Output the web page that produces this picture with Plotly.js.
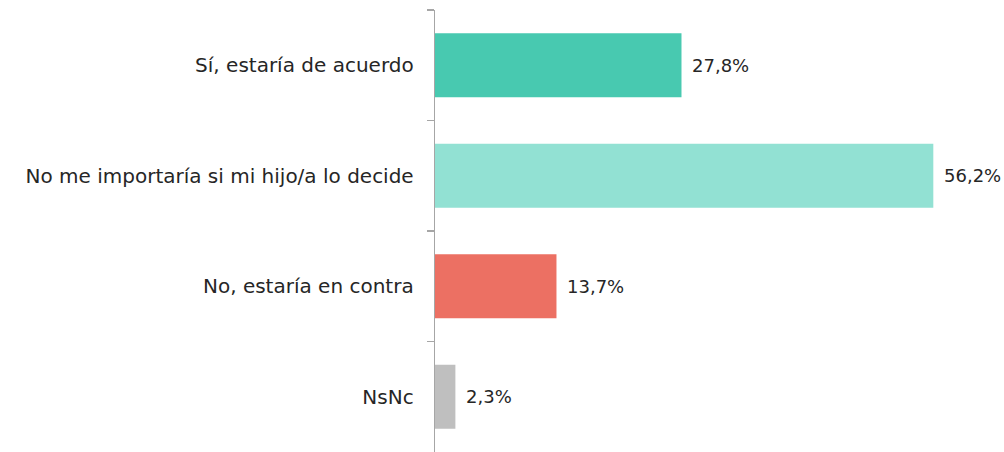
<!DOCTYPE html>
<html><head><meta charset="utf-8">
<script src="https://cdn.plot.ly/plotly-3.0.1.min.js"></script>
<style>html,body{margin:0;padding:0;background:#fff}#chart{width:1004px;height:452px}</style>
</head><body><div id="chart"></div>
<script>
const categories = ["Sí, estaría de acuerdo", "No me importaría si mi hijo/a lo decide", "No, estaría en contra", "NsNc"];
const values = [27.8, 56.2, 13.7, 2.3];
const valueLabels = ["27,8%", "56,2%", "13,7%", "2,3%"];
const colors = ["#48C9B0", "#92E1D3", "#EC7063", "#BFBFBF"];
const FONT = "'DejaVu Sans', sans-serif";

const trace = {
  type: "bar", orientation: "h",
  y: categories, x: values,
  marker: {color: colors},
  hoverinfo: "none"
};
const annotations = categories.map((c, i) => ({
  x: values[i], y: c, xref: "x", yref: "y",
  text: valueLabels[i], showarrow: false,
  xanchor: "left", xshift: 9,
  font: {family: FONT, size: 18, color: "#262626"}
}));
const layout = {
  width: 1004, height: 452,
  margin: {l: 435, r: 37, t: 10, b: 0},
  paper_bgcolor: "#fff", plot_bgcolor: "#fff",
  bargap: 0.42,
  showlegend: false,
  xaxis: {range: [0, 60], visible: false, fixedrange: true},
  yaxis: {
    autorange: "reversed", type: "category",
    showline: true, linecolor: "#A6A6A6", linewidth: 1.3,
    ticks: "outside", tickson: "boundaries", ticklen: 7, tickcolor: "#A6A6A6", tickwidth: 1.3,
    ticklabelstandoff: 16,
    tickfont: {family: FONT, size: 20, color: "#262626"},
    showgrid: false, zeroline: false
  },
  annotations: annotations
};
Plotly.newPlot("chart", [trace], layout, {displayModeBar: false, staticPlot: true});
</script></body></html>
